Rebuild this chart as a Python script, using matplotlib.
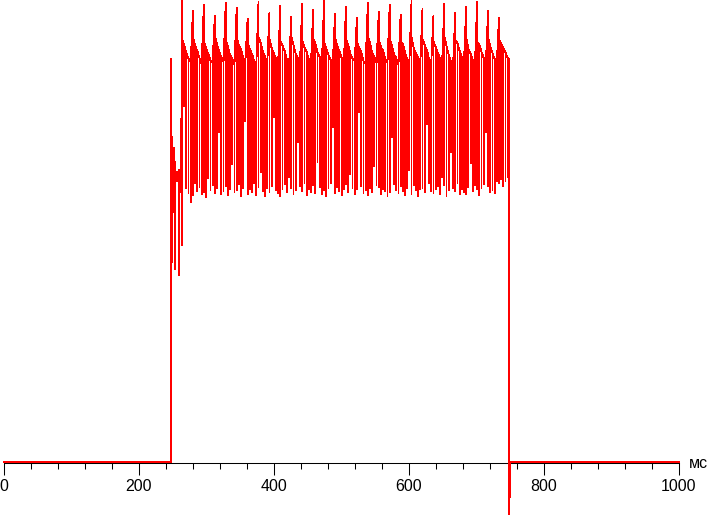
import matplotlib
matplotlib.use("Agg")
import matplotlib.pyplot as plt
import numpy as np
from matplotlib.ticker import MultipleLocator

# brightness trace, arbitrary units (0 = dark), time in ms
baseline_val = 1

# switch-on transient
onset_ms = [247.0, 247.3, 248.0, 248.0, 249.2, 249.2, 249.2, 251.5, 251.5, 251.5,
            253.8, 253.8, 253.8, 256.2, 256.2, 256.2, 259.3, 259.3, 259.3, 262.3]
onset_val = [1, 91, 405, 163, 326, 200, 311, 315, 250, 304,
             300, 193, 290, 291, 281, 287, 293, 187, 281, 271]

# steady part: PWM strokes, 5 strokes per flicker period
first_stroke_ms = 263.7
last_stroke_ms = 746.3

peak_val = [463, 452, 458, 447, 460, 455, 444, 461, 450, 457,
            446, 459, 453, 462, 449, 456, 445, 460, 451, 458,
            448, 462, 454, 447, 459, 450, 456, 461, 452, 445]

plateau_val = [
    424, 418, 410, 404, 401,  426, 417, 412, 405, 399,
    422, 415, 409, 403, 400,  427, 419, 411, 406, 401,
    423, 416, 408, 404, 398,  425, 418, 413, 405, 402,
    421, 414, 409, 402, 399,  426, 420, 411, 406, 400,
    424, 415, 410, 404, 401,  422, 417, 412, 403, 398,
    427, 418, 409, 405, 402,  423, 416, 411, 404, 399,
    425, 419, 410, 406, 400,  421, 414, 408, 403, 401,
    426, 417, 412, 405, 398,  424, 418, 409, 404, 402,
    422, 415, 411, 402, 399,  427, 420, 410, 406, 400,
    423, 416, 412, 404, 401,  425, 417, 408, 405, 398,
    421, 419, 411, 403, 402,  426, 415, 409, 406, 399,
    424, 418, 413, 404, 400,  422, 416, 410, 405, 401,
    427, 417, 408, 402, 398,  423, 420, 412, 406, 402,
    425, 414, 409, 403, 399,  421, 418, 411, 405, 400,
    426, 416, 410, 404, 401,  424, 419, 415, 410, 405,
]

low_val = [
    217, 356, 274, 269, 260,  267, 279, 271, 275, 268,
    270, 265, 284, 272, 277,  269, 274, 330, 268, 271,
    276, 267, 273, 298, 270,  272, 278, 266, 274, 341,
    268, 273, 270, 279, 267,  275, 290, 271, 266, 274,
    270, 276, 345, 272, 269,  266, 273, 278, 270, 285,
    274, 268, 272, 320, 276,  271, 279, 267, 273, 270,
    277, 269, 300, 275, 268,  272, 266, 274, 279, 335,
    269, 275, 271, 267, 273,  278, 270, 288, 274, 268,
    273, 350, 276, 269, 272,  267, 274, 270, 296, 277,
    275, 268, 273, 271, 266,  270, 325, 278, 272, 269,
    276, 271, 267, 274, 292,  268, 277, 272, 266, 273,
    274, 270, 338, 279, 271,  269, 273, 276, 268, 285,
    277, 266, 272, 310, 274,  271, 279, 268, 273, 270,
    268, 275, 299, 271, 277,  273, 267, 274, 278, 330,
    276, 270, 272, 269, 281,  279, 283, 276, 281, 285,
]

# switch-off: undershoot below zero then dark
off_ms = [748.6, 748.6, 749.6]
off_val = [403, -60, 1]


def build_trace():
    t = [0.0]
    v = [baseline_val]
    t += onset_ms
    v += onset_val
    stroke_ms = np.linspace(first_stroke_ms, last_stroke_ms, len(low_val))
    for k, tk in enumerate(stroke_ms):
        top = peak_val[k // 5] if k % 5 == 0 else plateau_val[k]
        t += [tk, tk, tk]
        v += [top, low_val[k], plateau_val[k]]
    t += off_ms + [1000.0]
    v += off_val + [baseline_val]
    return np.array(t), np.array(v)


fig = plt.figure(figsize=(7.07, 5.15), dpi=100)
ax = fig.add_axes([4 / 707, 0, 675 / 707, 1])

t, v = build_trace()
ax.plot(t, v, color="#ff0000", linewidth=0.6, antialiased=False, zorder=3,
        clip_on=False, solid_joinstyle="miter")

ax.set_xlim(0, 1000)
ax.set_ylim(-52, 463)
for side in ("left", "right", "top"):
    ax.spines[side].set_visible(False)
ax.spines["bottom"].set_position(("data", 0))
ax.spines["bottom"].set_bounds(0, 1000)
ax.spines["bottom"].set_linewidth(0.75)
ax.set_yticks([])
ax.xaxis.set_major_locator(MultipleLocator(200))
ax.xaxis.set_minor_locator(MultipleLocator(40))
ax.tick_params(axis="x", which="major", direction="out", length=8.6, width=0.75,
               pad=3, labelsize=11.5, colors="black")
ax.tick_params(axis="x", which="minor", direction="out", length=4.3, width=0.75)
for lab in ax.get_xticklabels():
    lab.set_fontfamily("Liberation Sans")

fig.text(689 / 707, 47 / 515, "мс", ha="left", va="baseline",
         fontsize=11.5, family="Liberation Sans")

fig.savefig("out.png", dpi=100, facecolor="white")
